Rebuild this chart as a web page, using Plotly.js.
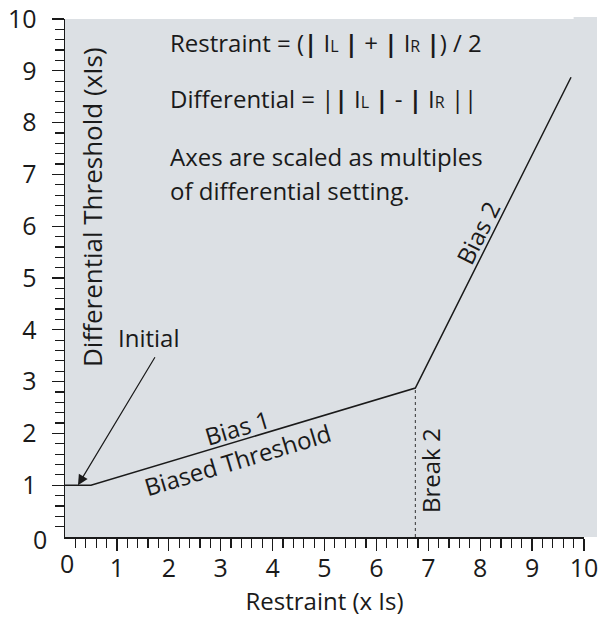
<!DOCTYPE html>
<html>
<head>
<meta charset="utf-8">
<script src="https://cdn.plot.ly/plotly-3.0.1.min.js"></script>
<style>html,body{margin:0;padding:0;background:#fff;}#chart{width:610px;height:621px;}</style>
</head>
<body>
<div id="chart"></div>
<script>
// Characteristic (restraint vs differential threshold, multiples of Is)
const thresholdX = [0, 0.5, 6.75, 9.75];
const thresholdY = [1, 1, 2.875, 8.875];
const break2X = [6.75, 6.75];
const break2Y = [0, 2.875];
const xTickVals = [1, 2, 3, 4, 5, 6, 7, 8, 9, 10];
const xTickText = ['1', '2', '3', '4', '5', '6', '7', '8', '9', '10'];
const yTickVals = [1, 2, 3, 4, 5, 6, 7, 8, 9, 10];
const yTickText = ['1', '2', '3', '4', '5', '6', '7', '8', '9', '10'];

const FONT = '"Open Sans", "Noto Sans", sans-serif';
const INK = '#1a1a1a';
const BG = '#dce0e4';
const TXT = 24;
const TICK = 25;

const minorVals = [];
for (let i = 1; i < 50; i++) { if (i % 5 !== 0) minorVals.push(i / 5); }

const traces = [
  {x: thresholdX, y: thresholdY, type: 'scatter', mode: 'lines',
   line: {color: INK, width: 1.5}, hoverinfo: 'none', cliponaxis: false},
  {x: break2X, y: break2Y, type: 'scatter', mode: 'lines',
   line: {color: '#333', width: 1, dash: 'dot'}, hoverinfo: 'none'}
];

const sub = s => '<span style="font-size:16px">' + s + '</span>';
const B = '<b>|</b>';

function txt(text, x, y, opts) {
  return Object.assign({text: text, x: x, y: y, xref: 'x', yref: 'y', showarrow: false,
    font: {family: FONT, size: TXT, color: INK}}, opts || {});
}

const annotations = [
  txt('Restraint = (' + B + ' I' + sub('L') + ' ' + B + ' + ' + B + ' I' + sub('R') + ' ' + B + ') / 2', 1.98, 9.54, {xanchor: 'left'}),
  txt('Differential = |' + B + ' I' + sub('L') + ' ' + B + ' - ' + B + ' I' + sub('R') + ' ||', 1.98, 8.47, {xanchor: 'left'}),
  txt('Axes are scaled as multiples', 1.98, 7.34, {xanchor: 'left'}),
  txt('of differential setting.', 1.98, 6.68, {xanchor: 'left'}),
  txt('Differential Threshold (xIs)', 0.52, 6.37, {textangle: -90, font: {family: FONT, size: 26, color: INK}}),
  txt('Initial', 1.62, 3.86),
  txt('Bias 1', 3.31, 2.12, {textangle: -16.7}),
  txt('Biased Threshold', 3.33, 1.49, {textangle: -16.7}),
  txt('Bias 2', 7.96, 5.87, {textangle: -63.4}),
  txt('Break 2', 7.03, 1.29, {textangle: -90}),
  // arrow for "Initial"
  {x: 0.25, y: 1, xref: 'x', yref: 'y', ax: 1.75, ay: 3.5, axref: 'x', ayref: 'y',
   text: '', showarrow: true, arrowhead: 2, arrowsize: 1.7, arrowwidth: 1.2, arrowcolor: INK, standoff: 0},
  // zero labels at the origin corner
  {text: '0', x: 0.004, y: -0.05, xref: 'paper', yref: 'paper', xanchor: 'center', yanchor: 'middle',
   showarrow: false, font: {family: FONT, size: TICK, color: INK}},
  {text: '0', x: -0.048, y: -0.004, xref: 'paper', yref: 'paper', xanchor: 'center', yanchor: 'middle',
   showarrow: false, font: {family: FONT, size: TICK, color: INK}}
];

const axisCommon = {
  range: [0, 10], tickmode: 'array', ticks: 'outside', ticklen: 12, tickwidth: 1.2,
  tickcolor: INK, showline: true, linecolor: INK, linewidth: 1.5, showgrid: false,
  zeroline: false, tickfont: {family: FONT, size: TICK, color: INK}, fixedrange: true,
  minor: {tickmode: 'array', tickvals: minorVals, ticks: 'outside', ticklen: 9,
          tickwidth: 1.2, tickcolor: INK, showgrid: false}
};

const layout = {
  width: 610, height: 621,
  margin: {l: 65, r: 26, t: 19, b: 84, pad: 0},
  paper_bgcolor: '#ffffff', plot_bgcolor: BG,
  showlegend: false,
  xaxis: Object.assign({}, axisCommon, {tickvals: xTickVals, ticktext: xTickText,
    ticklabelstandoff: -4,
    title: {text: 'Restraint (x Is)', font: {family: FONT, size: TXT, color: INK}, standoff: 10}}),
  yaxis: Object.assign({}, axisCommon, {tickvals: yTickVals, ticktext: yTickText,
    ticklabelstandoff: 10}),
  annotations: annotations,
  shapes: [
    {type: 'rect', xref: 'paper', yref: 'paper', x0: 0.98, x1: 1.025, y0: 0, y1: 1.004,
     fillcolor: BG, line: {width: 0}, layer: 'below'}
  ]
};

Plotly.newPlot('chart', traces, layout, {displayModeBar: false, staticPlot: true});
</script>
</body>
</html>
